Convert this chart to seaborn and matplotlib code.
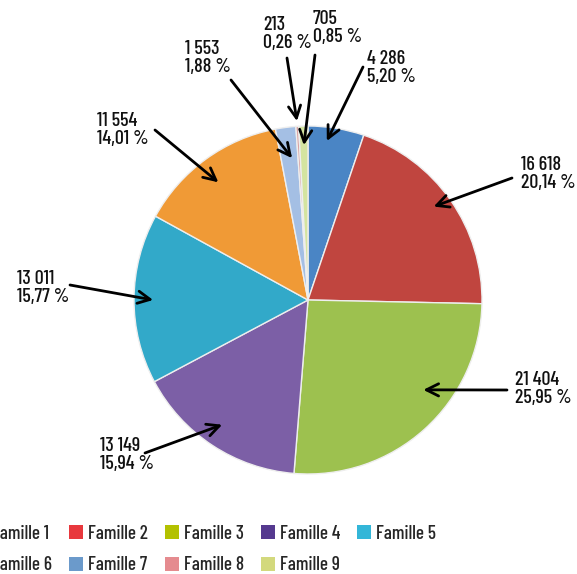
import numpy as np
import matplotlib
matplotlib.use("Agg")
import matplotlib.pyplot as plt
from matplotlib.patches import Patch
import seaborn as sns

# ---- data ----
families = ["Famille 1", "Famille 2", "Famille 3", "Famille 4", "Famille 5",
            "Famille 6", "Famille 7", "Famille 8", "Famille 9"]
values = [4286, 16618, 21404, 13149, 13011, 11554, 1553, 213, 705]
pie_colors = ["#4a85c5", "#c0453f", "#9dc14f", "#7c5fa6", "#32a9c9",
              "#f09a36", "#a4bfe4", "#d9a3a3", "#d4e4a0"]
legend_colors = ["#3b78c3", "#e8383d", "#b3c100", "#55398f", "#33b6d8",
                 "#f39221", "#6b9acb", "#e58b8f", "#d3d97d"]

# ---- layout (annotation placement, figure pixels from top-left) ----
text_pos = [(367, 50), (521, 156), (515, 371), (100, 437), (17, 270),
            (97, 112), (185, 40), (263, 16), (313, 10)]
tail_pos = [(363, 67), (512, 178), (507, 390), (145, 453), (70, 285),
            (155, 130), (231, 80), (287, 58), (315, 55)]
head_angle_offset = [2.6, 1.6, 10, -1.2, 0.4, 1.3, -1, 0, 0]
head_radius = [0.92, 0.9, 0.84, 0.87, 0.89, 0.85, 0.82, 1.03, 0.89]

W, H = 577, 574
sns.set_theme(style="white")
FONT = ["Barlow Condensed", "Roboto Condensed", "DejaVu Sans"]
plt.rcParams["font.family"] = FONT

fig = plt.figure(figsize=(W / 100, H / 100), dpi=100)
cx, cy, R = 308, 300, 174
ax = fig.add_axes([(cx - R) / W, (H - cy - R) / H, 2 * R / W, 2 * R / H])

wedges, _ = ax.pie(values, colors=pie_colors, startangle=90, counterclock=False,
                   wedgeprops=dict(edgecolor="#eeeeee", linewidth=1.0))
ax.set_xlim(-1, 1)
ax.set_ylim(-1, 1)
ax.set_aspect("auto")
ax.axis("off")

total = sum(values)


def fmt_int(v):
    return f"{v:,}".replace(",", " ")


def fmt_pct(v):
    return f"{100 * v / total:.2f}".replace(".", ",") + " %"


for i, w in enumerate(wedges):
    mid = 0.5 * (w.theta1 + w.theta2) + head_angle_offset[i]
    r = head_radius[i]
    head = (r * np.cos(np.radians(mid)), r * np.sin(np.radians(mid)))
    tx, ty = tail_pos[i]
    ax.annotate("", xy=head, xycoords="data",
                xytext=(tx, H - ty), textcoords="figure pixels",
                arrowprops=dict(arrowstyle="->", lw=2.0, color="black",
                                mutation_scale=22, shrinkA=0, shrinkB=0),
                annotation_clip=False)
    px, py = text_pos[i]
    fig.text(px / W, (H - py) / H, fmt_int(values[i]) + "\n" + fmt_pct(values[i]),
             ha="left", va="top", fontsize=14.4, linespacing=1.0,
             fontweight="medium", color="#111111", family=FONT)

# legend: row-major order for 5 columns x 2 rows
handles = [Patch(facecolor=c, edgecolor="none") for c in legend_colors]
order = [0, 5, 1, 6, 2, 7, 3, 8, 4]
fig.legend([handles[k] for k in order], [families[k] for k in order],
           ncol=5, loc="upper left",
           bbox_to_anchor=(-27 / W, (H - 525) / H),
           frameon=False, borderpad=0, borderaxespad=0,
           handlelength=0.73, handleheight=0.73, handletextpad=0.26,
           columnspacing=0.89, labelspacing=0.7,
           prop=dict(family=FONT, size=13.8, weight="medium"))

fig.savefig("out.png", dpi=100)
